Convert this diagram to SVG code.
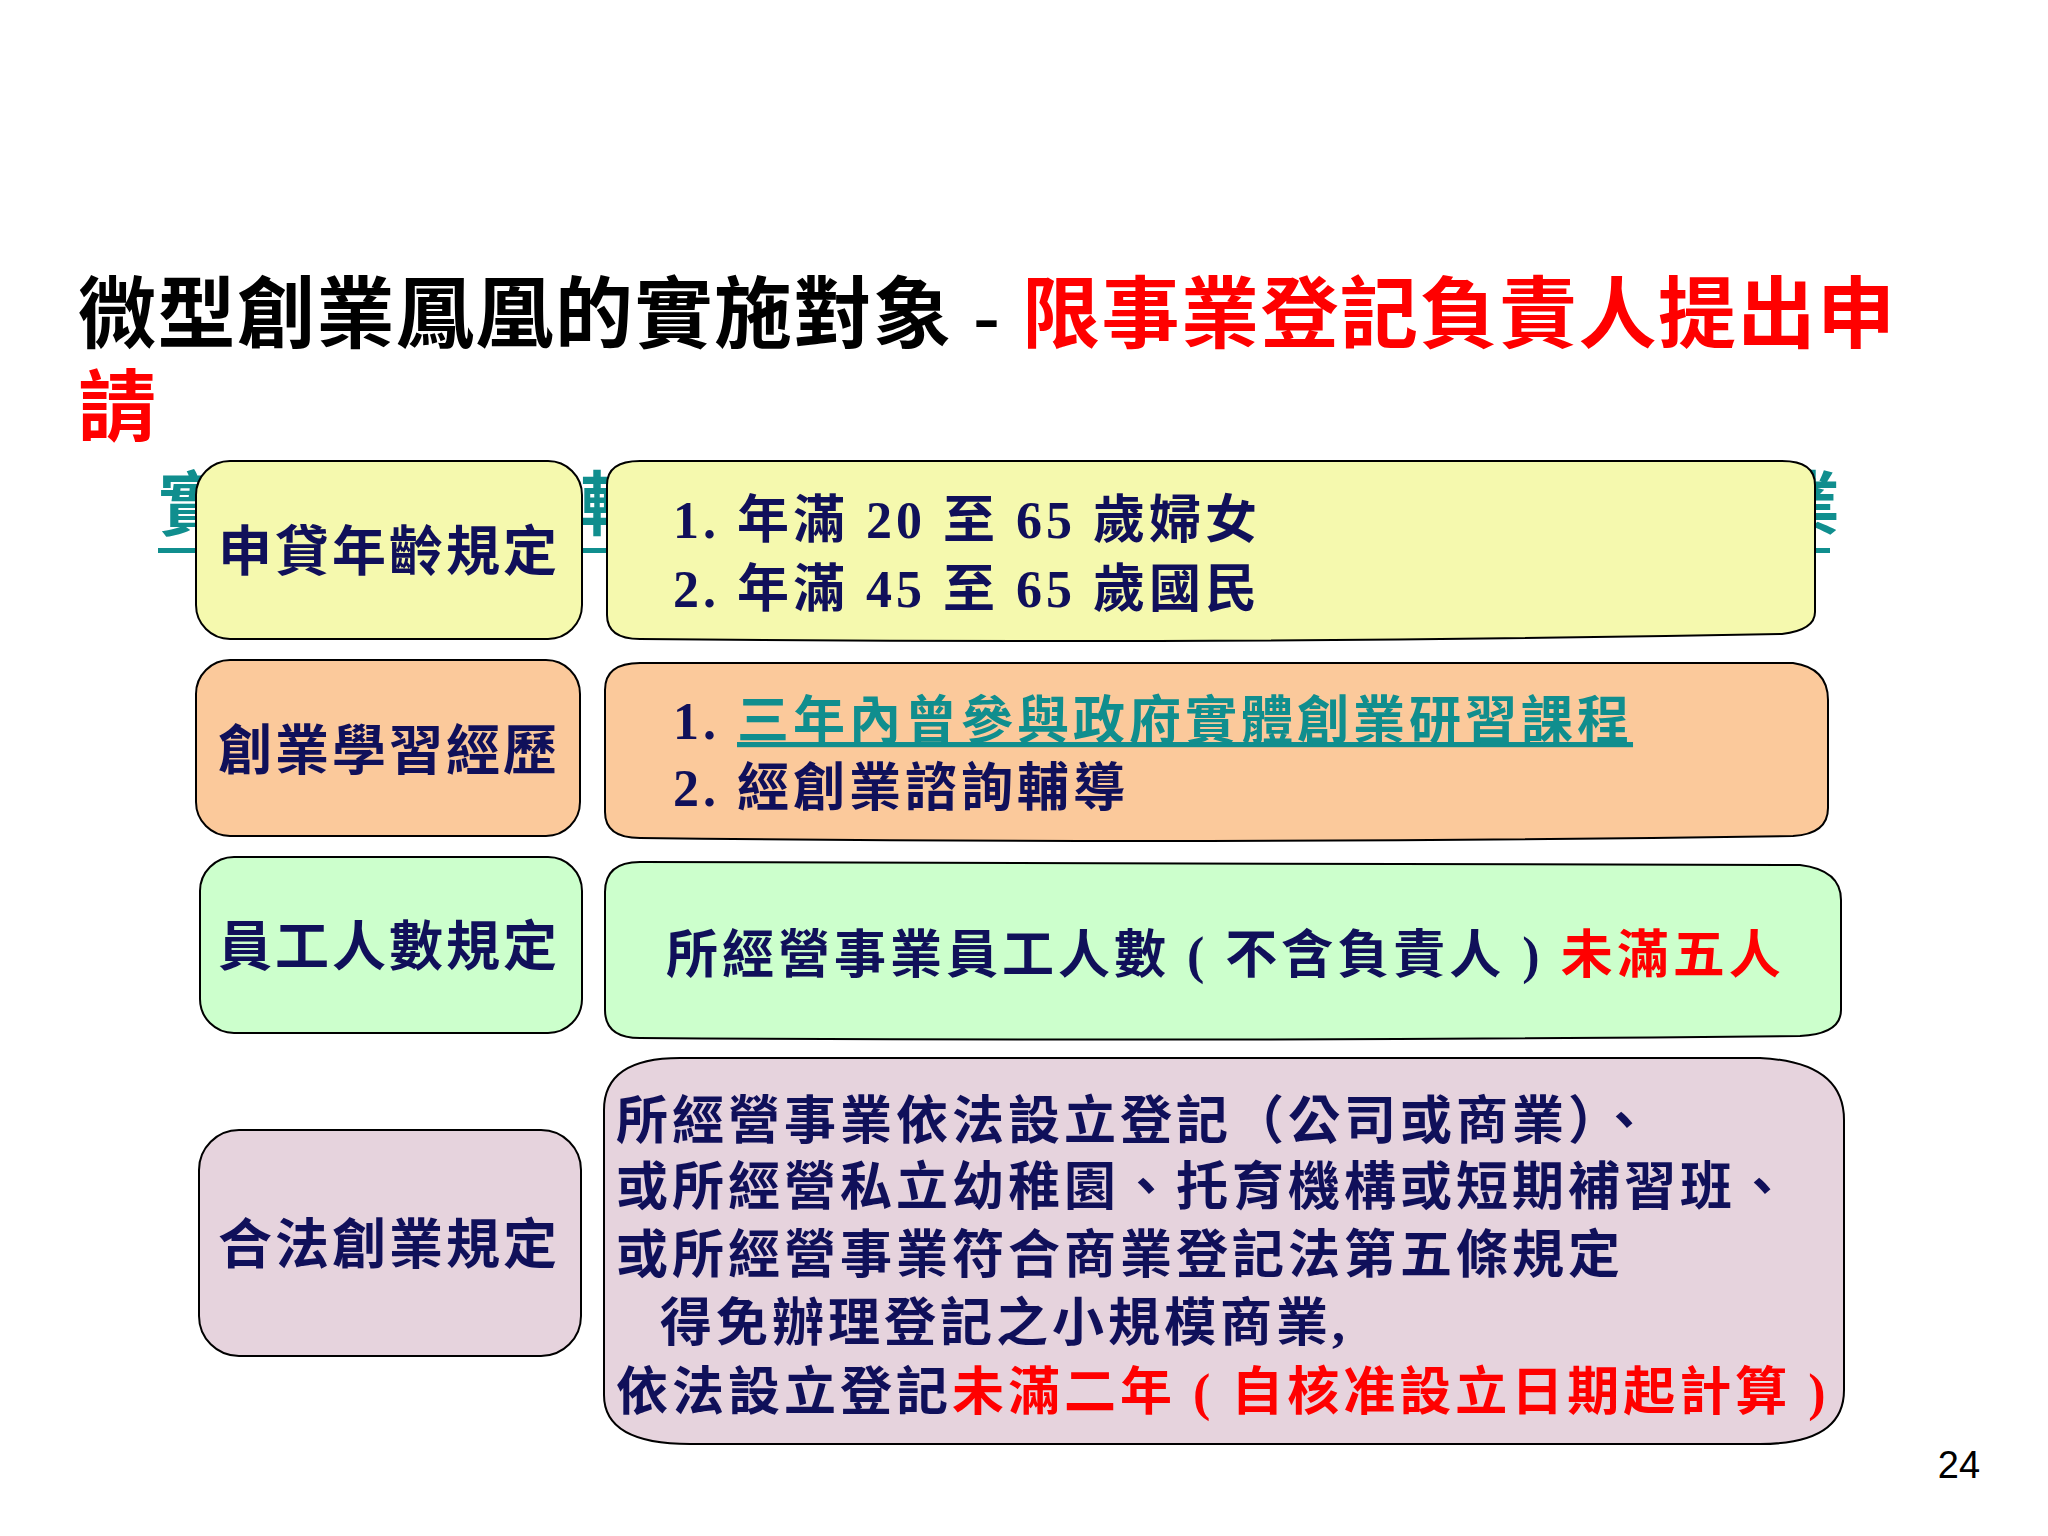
<svg xmlns="http://www.w3.org/2000/svg" width="2048" height="1536" viewBox="0 0 2048 1536">
<style>
.t{font-family:"Liberation Serif","Noto Sans CJK TC",serif;font-weight:bold}
.lb{font-size:54px;fill:#10105A;text-anchor:middle;letter-spacing:3px}
.bx{stroke:#000;stroke-width:2}
.tx{font-size:52px;fill:#10105A;letter-spacing:4px}
.red{fill:#FF0000}
</style>
<rect width="2048" height="1536" fill="#fff"/>
<text class="t" x="78" y="342" font-size="78" fill="#000" letter-spacing="1.5">微型創業鳳凰的實施對象 - <tspan class="red">限事業登記負責人提出申</tspan></text>
<text class="t red" x="78" y="435" font-size="78">請</text>
<g id="bg-text" fill="#108E8E" class="t" font-size="70">
<text x="158" y="530">實</text><text x="580" y="530">輔</text><text x="1770" y="530">業</text>
<rect x="158" y="548" width="1672" height="5"/>
</g>
<g id="row1">
<rect class="bx" x="196" y="461" width="386" height="178" rx="34" fill="#F5F9AE"/>
<text class="t lb" x="389" y="571">申貸年齡規定</text>
<path class="bx" d="M607,485 Q607,461 640,461 L1782,461 Q1815,461 1815,485 L1815,612 Q1815,630 1782,634 Q1211,645 640,639 Q607,639 607,615 Z" fill="#F5F9AE"/>
<text class="t tx" x="673" y="538">1. 年滿 20 至 65 歲婦女</text>
<text class="t tx" x="673" y="607">2. 年滿 45 至 65 歲國民</text>
</g>
<g id="row2">
<rect class="bx" x="196" y="660" width="384" height="176" rx="34" fill="#FBC99B"/>
<text class="t lb" x="389" y="770">創業學習經歷</text>
<path class="bx" d="M605,690 Q605,663 640,663 L1793,663 Q1828,668 1828,700 L1828,808 Q1828,834 1793,836 Q1216,845 640,838 Q605,838 605,812 Z" fill="#FBC99B"/>
<text class="t tx" x="673" y="739">1. <tspan fill="#108E8E" text-decoration="underline">三年內曾參與政府實體創業研習課程</tspan></text>
<text class="t tx" x="673" y="806">2. 經創業諮詢輔導</text>
</g>
<g id="row3">
<rect class="bx" x="200" y="857" width="382" height="176" rx="34" fill="#CCFFCC"/>
<text class="t lb" x="389" y="966">員工人數規定</text>
<path class="bx" d="M605,892 Q605,862 640,862 L1800,865 Q1841,870 1841,900 L1841,1010 Q1841,1034 1800,1036 Q1220,1042 640,1038 Q605,1038 605,1010 Z" fill="#CCFFCC"/>
<text class="t tx" x="666" y="973">所經營事業員工人數 ( 不含負責人 ) <tspan class="red">未滿五人</tspan></text>
</g>
<g id="row4">
<rect class="bx" x="199" y="1130" width="382" height="226" rx="40" fill="#E6D3DD"/>
<text class="t lb" x="389" y="1264">合法創業規定</text>
<path class="bx" d="M604,1110 Q604,1058 680,1058 L1760,1058 Q1844,1062 1844,1120 L1844,1390 Q1844,1444 1760,1444 L690,1444 Q604,1444 604,1395 Z" fill="#E6D3DD"/>
<text class="t tx" x="616" y="1139">所經營事業依法設立登記（公司或商業）、</text>
<text class="t tx" x="616" y="1205">或所經營私立幼稚園、托育機構或短期補習班、</text>
<text class="t tx" x="616" y="1273">或所經營事業符合商業登記法第五條規定</text>
<text class="t tx" x="660" y="1341">得免辦理登記之小規模商業,</text>
<text class="t tx" x="616" y="1410">依法設立登記<tspan class="red">未滿二年 ( 自核准設立日期起計算 )</tspan></text>
</g>
<text x="1959" y="1478" font-family="Liberation Sans,sans-serif" font-size="38" fill="#000" text-anchor="middle">24</text>
</svg>
